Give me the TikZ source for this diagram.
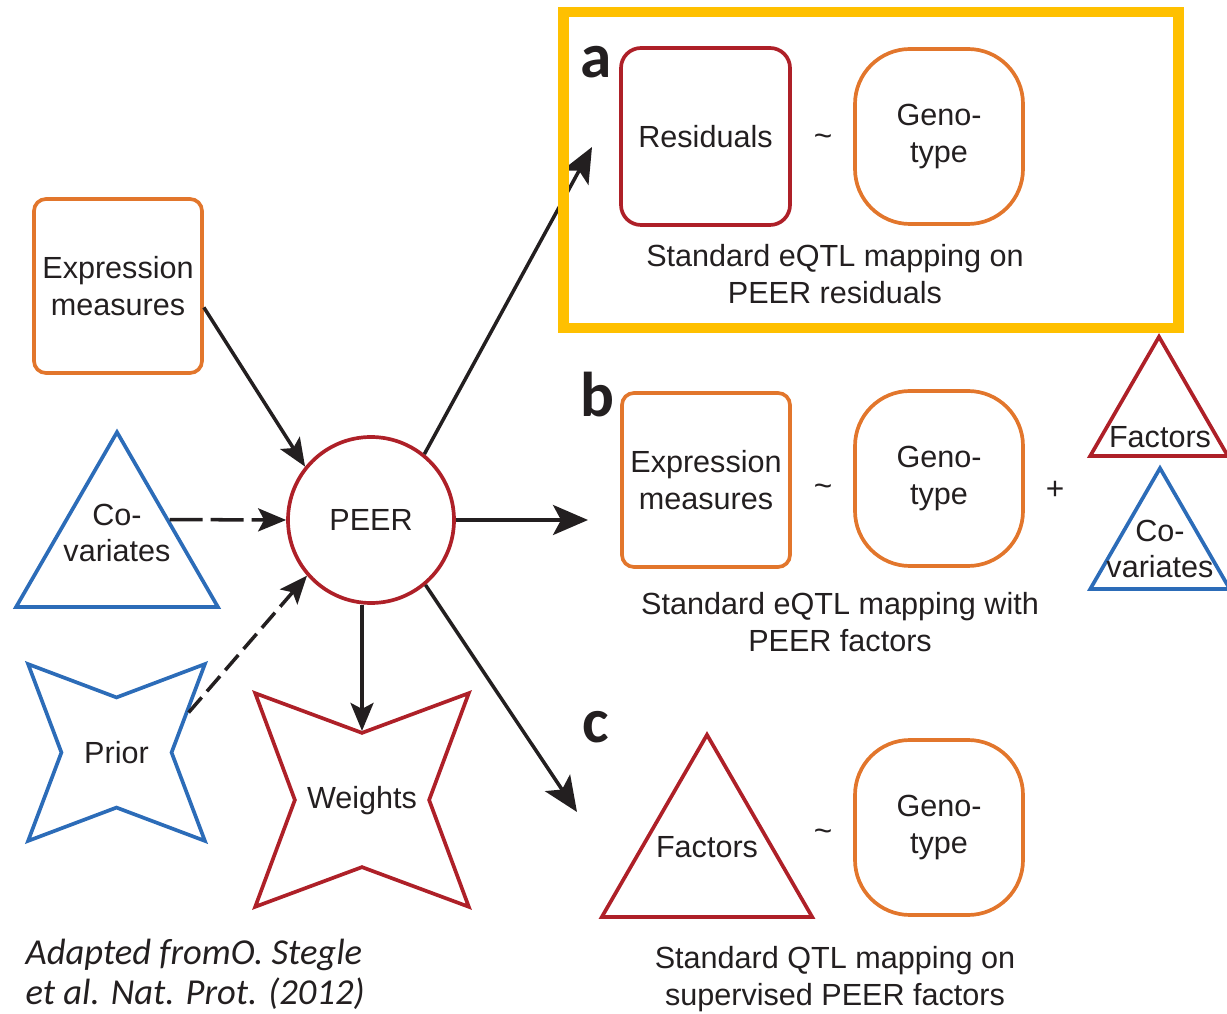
\documentclass[tikz,border=0pt]{standalone}
\usepackage{fontspec}
\setmainfont{Liberation Sans}
\newfontfamily\citefont{Carlito}
\usepackage{xcolor}
\definecolor{peerred}{RGB}{174,32,40}
\definecolor{peerorange}{RGB}{226,118,44}
\definecolor{peerblue}{RGB}{44,108,184}
\definecolor{peeryellow}{RGB}{255,192,0}
\definecolor{peerink}{RGB}{35,31,32}
\usepackage{tikz}
\usetikzlibrary{arrows.meta, shapes.geometric, calc}

\begin{document}
\begin{tikzpicture}[
    every node/.style={text=peerink, font=\fontsize{8.7}{10.4}\selectfont},
    box/.style={draw=#1, line width=1.05pt, rounded corners=1.2mm, minimum width=1.68cm,
                minimum height=1.74cm, align=center, inner sep=0pt},
    geno/.style={draw=peerorange, line width=1.05pt, rounded corners=5.5mm, minimum width=1.68cm,
                 minimum height=1.75cm, align=center, inner sep=0pt},
    tri/.style={draw=#1, line width=1.05pt, regular polygon, regular polygon sides=3, inner sep=0pt},
    spiky/.style={draw=#1, line width=1.05pt, star, star points=4, shape border rotate=45, inner sep=0pt},
    link/.style={draw=peerink, line width=1pt, -{Stealth[length=2.8mm, width=2.3mm, inset=0.6mm]}},
    biglink/.style={draw=peerink, line width=1pt, -{Stealth[length=3.5mm, width=3mm, inset=0.8mm]}},
    panel/.style={font=\fontsize{18}{18}\citefont\bfseries},
    sign/.style={font=\fontsize{9}{10}\selectfont},
  ]
  \useasboundingbox (0,0) rectangle (12.27,10.13);

  % Inputs on the left
  \node[box=peerorange] (expr) at (1.18,7.27) {Expression\\measures};
  \node[tri=peerblue, minimum size=2.33cm] (cov) at (1.17,4.643) {};
  \node[align=center] (covtext) at (1.17,4.80) {Co-\\variates};
  \node[spiky=peerblue, minimum size=2.5cm, star point ratio=2.27] (prior) at (1.165,2.605) {};
  \node (priortext) at (prior.center) {Prior};

  % PEER and its weights
  \node[circle, draw=peerred, line width=1.05pt, minimum size=1.66cm] (peer) at (3.71,4.93) {PEER};
  \node[spiky=peerred, minimum size=3.02cm, star point ratio=2.25] (weights) at (3.62,2.13) {};
  \node (weightstext) at (3.62,2.12) {Weights};

  % Panel a
  \node[panel] (la) at (5.96,9.51) {a};
  \node[box=peerred, rounded corners=2mm, minimum width=1.69cm, minimum height=1.77cm] (res) at (7.055,8.765) {Residuals};
  \node[sign] (tildea) at (8.23,8.73) {\textasciitilde};
  \node[geno] (genoa) at (9.39,8.765) {Geno-\\type};
  \node[align=center] (capa) at (8.35,7.39) {Standard eQTL mapping on\\PEER residuals};

  % Panel b
  \node[panel] (lb) at (5.97,6.18) {b};
  \node[box=peerorange] (exprb) at (7.06,5.33) {Expression\\measures};
  \node[sign] (tildeb) at (8.23,5.23) {\textasciitilde};
  \node[geno] (genob) at (9.39,5.345) {Geno-\\type};
  \node[sign] (plusb) at (10.55,5.23) {+};
  \node[tri=peerred, minimum size=1.59cm] (factb) at (11.59,5.967) {};
  \node (factbtext) at (11.60,5.76) {Factors};
  \node[tri=peerblue, minimum size=1.61cm] (covb) at (11.60,4.643) {};
  \node[align=center] (covbtext) at (11.60,4.64) {Co-\\variates};
  \node[align=center] (capb) at (8.40,3.91) {Standard eQTL mapping with\\PEER factors};

  % Panel c
  \node[panel] (lc) at (5.96,2.86) {c};
  \node[tri=peerred, minimum size=2.43cm] (factc) at (7.07,1.567) {};
  \node (factctext) at (7.07,1.66) {Factors};
  \node[sign] (tildec) at (8.23,1.78) {\textasciitilde};
  \node[geno] (genoc) at (9.39,1.855) {Geno-\\type};
  \node[align=center] (capc) at (8.35,0.34) {Standard QTL mapping on\\supervised PEER factors};

  % Source
  \node[anchor=west, align=left, inner sep=0pt, font=\fontsize{10.4}{11.3}\citefont\itshape] (cite) at (0.25,0.39)
       {Adapted fromO. Stegle\\et al. Nat. Prot. (2012)};

  % Arrows
  \coordinate (tipa) at (5.92,8.66);
  \coordinate (tipb) at (5.88,4.93);
  \coordinate (tipc) at (5.77,2.01);
  \draw[link] (expr.-14) -- (peer.141);
  \draw[link, dash pattern=on 3.3mm off 0.8mm] (cov.29.5) -- (peer.west);
  \draw[link, dash pattern=on 2mm off 0.8mm] (prior.29) -- (peer.221);
  \draw[link] (weights.90 |- peer.south) -- (weights.90);
  \draw[biglink] (peer.51) -- (tipa);
  \draw[biglink] (peer.east) -- (tipb);
  \draw[biglink] (peer.-50) -- (tipc);

  % Highlight round panel a
  \draw[peeryellow, line width=3.1pt] (5.635,10.01) rectangle (11.785,6.85);
\end{tikzpicture}
\end{document}
